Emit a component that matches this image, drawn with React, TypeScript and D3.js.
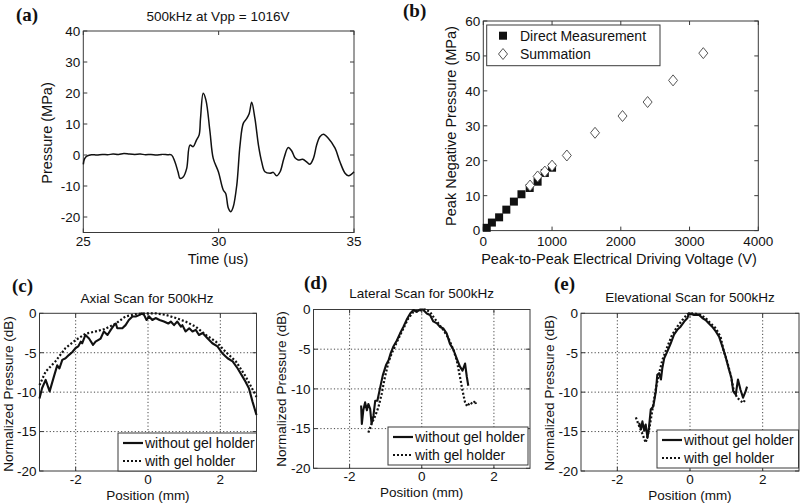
import React from 'react';
import * as d3 from 'd3';

// ---------- Panel (a): waveform ----------
const waveT = [25.0, 25.05, 25.15, 25.3, 25.5, 25.7, 25.9, 26.1, 26.3, 26.5, 26.7, 26.9, 27.1, 27.3, 27.5, 27.7, 27.9, 28.1, 28.26,
  28.38, 28.5, 28.57, 28.69, 28.82, 28.94, 29.06, 29.18, 29.28, 29.33, 29.43, 29.53, 29.68, 29.8, 29.99, 30.17, 30.26, 30.36, 30.45,
  30.54, 30.67, 30.79, 30.91, 31.04, 31.13, 31.22, 31.34, 31.47, 31.59, 31.71, 31.9, 32.02, 32.14, 32.27, 32.41, 32.57, 32.7, 32.82,
  32.94, 33.1, 33.25, 33.37, 33.5, 33.62, 33.74, 33.87, 34.05, 34.3, 34.48, 34.67, 34.79, 34.91, 35.0];
const waveP = [-3.0, -1.2, -0.3, 0.1, 0.0, 0.2, 0.1, 0.3, 0.2, 0.5, 0.3, 0.2, 0.3, 0.1, 0.2, 0.0, 0.2, 0.1, 0.0,
  -2.1, -5.5, -7.5, -7.1, -4.3, 3.2, 2.7, 4.8, 6.5, 11.8, 19.9, 17.7, 7.5, -1.1, -5.4, -11.3, -12.4, -17.2, -18.3,
  -16.7, -9.7, 3.2, 10.2, 11.8, 13.4, 17.0, 11.8, 3.2, -2.2, -5.4, -5.9, -5.6, -6.7, -5.4, -1.1, 2.4, 1.3, -0.9,
  -1.6, -1.4, -2.2, -3.0, -1.1, 3.2, 5.9, 6.7, 5.4, 2.2, -2.2, -5.9, -6.7, -6.2, -5.4];

// ---------- Panel (b): peak negative pressure ----------
const directV = [50, 125, 230, 335, 445, 555, 675, 790, 895, 1000];
const directP = [0.8, 2.3, 3.8, 6.0, 8.3, 10.4, 12.2, 14.0, 16.5, 18.0];
const sumV = [680, 790, 895, 1000, 1215, 1625, 2025, 2390, 2760, 3200];
const sumP = [12.9, 15.5, 16.9, 18.6, 21.5, 28.0, 32.8, 36.8, 43.0, 50.8];

// ---------- Panel (c): axial scan ----------
const axialPosA = [-3.0, -2.93, -2.83, -2.72, -2.6, -2.51, -2.45, -2.37, -2.28, -2.19, -2.09, -2.0, -1.93, -1.86, -1.82, -1.73, -1.63,
  -1.52, -1.45, -1.31, -1.22, -1.12, -1.03, -0.94, -0.89, -0.85, -0.71, -0.62, -0.53, -0.43, -0.34, -0.23, -0.17, -0.11, -0.04, 0.03,
  0.12, 0.21, 0.32, 0.44, 0.56, 0.63, 0.72, 0.81, 0.91, 0.95, 1.04, 1.14, 1.23, 1.32, 1.41, 1.51, 1.65, 1.78, 1.92, 2.06, 2.2, 2.34,
  2.48, 2.61, 2.7, 2.79, 2.89, 3.0];
const axialWithout = [-10.8, -9.5, -8.45, -9.9, -8.0, -6.6, -7.0, -5.9, -5.7, -5.3, -4.9, -4.4, -4.2, -3.6, -3.8, -2.75, -3.2,
  -4.0, -3.6, -3.2, -2.3, -2.75, -2.1, -1.5, -1.3, -1.9, -1.9, -1.5, -0.85, -0.4, -0.4, -0.2, 0.0, -0.2, -0.85, -0.4,
  -0.85, -0.6, -0.85, -1.05, -1.3, -1.05, -1.5, -1.05, -1.7, -1.5, -2.3, -1.9, -2.3, -2.1, -2.75, -2.5, -3.2, -3.8, -4.2, -5.1, -5.7, -6.1,
  -7.0, -8.0, -8.7, -9.5, -11.2, -12.9];
const axialPosB = [-3.0, -2.83, -2.56, -2.28, -2.0, -1.73, -1.45, -1.2, -0.89, -0.62, -0.34, -0.06, 0.21, 0.49, 0.77, 1.04, 1.32, 1.6,
  1.88, 2.15, 2.43, 2.7, 3.0];
const axialWith = [-9.1, -7.4, -6.1, -4.4, -3.4, -2.6, -2.3, -2.0, -1.3, -0.4, -0.1, 0.0, 0.0, -0.2, -0.6, -1.05, -1.7, -2.75,
  -3.6, -4.9, -6.1, -8.0, -10.6];

// ---------- Panel (d): lateral scan ----------
const latPosA = [-1.68, -1.66, -1.62, -1.57, -1.52, -1.48, -1.43, -1.39, -1.34, -1.29, -1.23, -1.16, -1.08, -0.99, -0.92, -0.86, -0.79,
  -0.69, -0.6, -0.51, -0.42, -0.32, -0.23, -0.14, -0.05, 0.03, 0.14, 0.23, 0.32, 0.42, 0.51, 0.6, 0.69, 0.78, 0.88, 0.97, 1.06, 1.13,
  1.2, 1.25, 1.29];
const latWithout = [-12.1, -14.4, -12.7, -11.7, -12.7, -11.9, -12.5, -14.4, -13.4, -11.5, -11.5, -10.0, -8.3, -7.0, -6.4, -5.5, -4.7,
  -3.9, -3.0, -2.2, -1.3, -0.5, -0.06, -0.3, 0.0, 0.0, -0.5, -0.7, -1.5, -1.75, -2.2, -2.4, -3.0, -4.3, -5.1, -6.2, -7.2, -7.7,
  -6.8, -8.5, -9.6];
const latPosB = [-1.48, -1.39, -1.29, -1.2, -1.11, -1.02, -0.92, -0.83, -0.69, -0.51, -0.37, -0.23, -0.09, 0.09, 0.23, 0.32, 0.46,
  0.6, 0.74, 0.88, 0.97, 1.06, 1.13, 1.2, 1.26, 1.34, 1.41, 1.48, 1.5];
const latWith = [-15.5, -14.4, -13.4, -12.3, -10.6, -8.5, -6.6, -5.5, -4.1, -2.4, -1.1, -0.3, -0.15, 0.0, -0.3, -0.9, -1.75,
  -2.6, -3.6, -5.1, -6.4, -8.5, -10.2, -11.7, -12.2, -11.7, -11.9, -11.5, -11.9];

// ---------- Panel (e): elevational scan ----------
const elePosA = [-1.4, -1.35, -1.31, -1.26, -1.22, -1.17, -1.13, -1.08, -1.01, -0.94, -0.9, -0.85, -0.8, -0.76, -0.71, -0.62, -0.53,
  -0.44, -0.35, -0.26, -0.16, -0.07, -0.03, 0.11, 0.25, 0.34, 0.43, 0.52, 0.61, 0.71, 0.8, 0.89, 0.98, 1.07, 1.14, 1.19, 1.26, 1.32,
  1.39, 1.46, 1.53, 1.57];
const eleWithout = [-13.9, -14.7, -13.7, -14.9, -14.1, -15.8, -14.5, -12.2, -11.8, -9.9, -7.8, -7.6, -8.4, -6.9, -5.7, -4.8, -3.8,
  -2.7, -2.1, -1.7, -1.05, -0.6, 0.0, -0.2, -0.2, -0.6, -0.85, -1.3, -1.7, -2.3, -2.95, -4.2, -5.5, -7.1, -8.2, -9.9, -10.3, -8.4,
  -9.7, -10.7, -9.9, -9.3];
const elePosB = [-1.49, -1.4, -1.31, -1.22, -1.13, -1.04, -0.94, -0.85, -0.76, -0.62, -0.49, -0.35, -0.21, -0.07, 0.11, 0.29, 0.43,
  0.57, 0.71, 0.84, 0.93, 1.02, 1.12, 1.21, 1.3, 1.39, 1.46, 1.53];
const eleWith = [-13.2, -14.3, -15.3, -16.4, -14.9, -12.4, -9.5, -7.6, -5.9, -4.2, -2.7, -1.7, -0.85, -0.1, 0.0, -0.2, -0.6,
  -1.3, -1.9, -2.95, -4.8, -6.1, -7.8, -9.9, -10.7, -11.1, -11.35, -10.9];

// ---------- tick labels ----------
const aXTicks = [25, 30, 35];
const aYTicks = [-20, -10, 0, 10, 20, 30, 40];
const bXTicks = [0, 1000, 2000, 3000, 4000];
const bYTicks = [0, 10, 20, 30, 40, 50, 60];
const scanXTicks = [-2, 0, 2];
const scanYTicks = [-20, -15, -10, -5, 0];

const SANS = '"Liberation Sans", Arial, Helvetica, sans-serif';
const SERIF = '"Liberation Serif", "Times New Roman", serif';
const AX = '#3a3a3a';

type Sc = d3.ScaleLinear<number, number>;

function Frame({ x, y, xTicks, yTicks, grid, tickFont = 13.5, xLabY }:
  { x: Sc; y: Sc; xTicks: number[]; yTicks: number[]; grid?: boolean; tickFont?: number; xLabY: number }) {
  const [x0, x1] = x.range();
  const [y0, y1] = y.range(); // y0 bottom, y1 top
  const tl = 4;
  return (
    <g>
      {grid && xTicks.map((t) => {
        const px = x(t);
        if (Math.abs(px - x0) < 1 || Math.abs(px - x1) < 1) return null;
        return <line key={'gx' + t} x1={px} x2={px} y1={y0} y2={y1} stroke="#333" strokeWidth={0.9} strokeDasharray="1.2,2.2" />;
      })}
      {grid && yTicks.map((t) => {
        const py = y(t);
        if (Math.abs(py - y0) < 1 || Math.abs(py - y1) < 1) return null;
        return <line key={'gy' + t} x1={x0} x2={x1} y1={py} y2={py} stroke="#333" strokeWidth={0.9} strokeDasharray="1.2,2.2" />;
      })}
      <rect x={x0} y={y1} width={x1 - x0} height={y0 - y1} fill="none" stroke={AX} strokeWidth={1} />
      {xTicks.map((t) => (
        <g key={'xt' + t}>
          <line x1={x(t)} x2={x(t)} y1={y0} y2={y0 - tl} stroke={AX} />
          <line x1={x(t)} x2={x(t)} y1={y1} y2={y1 + tl} stroke={AX} />
          <text x={x(t)} y={xLabY} textAnchor="middle" fontSize={tickFont} fontFamily={SANS} fill="#111">{t}</text>
        </g>
      ))}
      {yTicks.map((t) => (
        <g key={'yt' + t}>
          <line x1={x0} x2={x0 + tl} y1={y(t)} y2={y(t)} stroke={AX} />
          <line x1={x1} x2={x1 - tl} y1={y(t)} y2={y(t)} stroke={AX} />
          <text x={x0 - 3} y={y(t)} dy="0.36em" textAnchor="end" fontSize={tickFont} fontFamily={SANS} fill="#111">{t}</text>
        </g>
      ))}
    </g>
  );
}

function ScanPanel({ letter, letterX, letterY, title, titleX, titleY, xr, yr, posA, valA, posB, valB, ylabX, ylabY, legend }:
  any) {
  const x = d3.scaleLinear().domain([-3, 3]).range(xr);
  const y = d3.scaleLinear().domain([-20, 0]).range(yr);
  const line = d3.line<[number, number]>().x((d) => x(d[0])).y((d) => y(d[1]));
  const a = posA.map((p: number, i: number) => [p, valA[i]] as [number, number]);
  const b = posB.map((p: number, i: number) => [p, valB[i]] as [number, number]);
  const bottom = yr[0];
  const [lx, ly, lw, lh] = legend;
  const cx = (xr[0] + xr[1]) / 2;
  return (
    <g>
      <Frame x={x} y={y} xTicks={scanXTicks} yTicks={scanYTicks} grid tickFont={13.5} xLabY={bottom + 13} />
      <path d={line(b) || ''} fill="none" stroke="#111" strokeWidth={2.2} strokeDasharray="2,2" />
      <path d={line(a) || ''} fill="none" stroke="#111" strokeWidth={2.1} strokeLinejoin="round" />
      <rect x={lx} y={ly} width={lw} height={lh} fill="white" stroke={AX} strokeWidth={1} />
      <line x1={lx + 5} x2={lx + 25} y1={ly + 10} y2={ly + 10} stroke="#111" strokeWidth={2.2} />
      <text x={lx + 27} y={ly + 10} dy="0.36em" fontSize={14} fontFamily={SANS} fill="#111">without gel holder</text>
      <line x1={lx + 5} x2={lx + 25} y1={ly + 28} y2={ly + 28} stroke="#111" strokeWidth={2.2} strokeDasharray="2,2" />
      <text x={lx + 27} y={ly + 28} dy="0.36em" fontSize={14} fontFamily={SANS} fill="#111">with gel holder</text>
      <text x={titleX} y={titleY} textAnchor="middle" fontSize={13.5} fontFamily={SANS} fill="#111">{title}</text>
      <text x={letterX} y={letterY} fontSize={19} fontWeight="bold" fontFamily={SERIF} fill="#111">{letter}</text>
      <text x={cx} y={bottom + 29} textAnchor="middle" fontSize={13.5} fontFamily={SANS} fill="#111">Position (mm)</text>
      <text transform={`translate(${ylabX},${ylabY}) rotate(-90)`} textAnchor="middle" fontSize={13.5} fontFamily={SANS} fill="#111">Normalized Pressure (dB)</text>
    </g>
  );
}

export default function App() {
  // Panel a
  const ax = d3.scaleLinear().domain([25, 35]).range([83.3, 354]);
  const ay = d3.scaleLinear().domain([-25, 40]).range([232.5, 31]);
  const wave = waveT.map((t, i) => [t, waveP[i]] as [number, number]);
  const waveLine = d3.line<[number, number]>().x((d) => ax(d[0])).y((d) => ay(d[1])).curve(d3.curveCatmullRom.alpha(0.5));

  // Panel b
  const bx = d3.scaleLinear().domain([0, 4000]).range([483.3, 758.3]);
  const by = d3.scaleLinear().domain([0, 60]).range([230.6, 21]);

  return (
    <svg width={800} height={503} style={{ position: 'absolute', left: 0, top: 0, background: 'white' }}>
      <rect x={0} y={0} width={800} height={503} fill="white" />
      {/* (a) */}
      <Frame x={ax} y={ay} xTicks={aXTicks} yTicks={aYTicks} xLabY={245.5} />
      <path d={waveLine(wave) || ''} fill="none" stroke="#111" strokeWidth={1.5} />
      <text x={16} y={21} fontSize={19} fontWeight="bold" fontFamily={SERIF} fill="#111">(a)</text>
      <text x={218} y={21} textAnchor="middle" fontSize={13.5} fontFamily={SANS} fill="#111">500kHz at Vpp = 1016V</text>
      <text x={218} y={264} textAnchor="middle" fontSize={14.5} fontFamily={SANS} fill="#111">Time (us)</text>
      <text transform="translate(52,133) rotate(-90)" textAnchor="middle" fontSize={14.5} fontFamily={SANS} fill="#111">Pressure (MPa)</text>

      {/* (b) */}
      <Frame x={bx} y={by} xTicks={bXTicks} yTicks={bYTicks} xLabY={245.5} />
      {directV.map((v, i) => (
        <rect key={'d' + i} x={bx(v) - 4} y={by(directP[i]) - 4} width={8} height={8} fill="#111" />
      ))}
      {sumV.map((v, i) => {
        const cx = bx(v), cy = by(sumP[i]);
        return <path key={'s' + i} d={`M${cx},${cy - 5.5}L${cx + 4.5},${cy}L${cx},${cy + 5.5}L${cx - 4.5},${cy}Z`} fill="white" stroke="#555" strokeWidth={1} />;
      })}
      <rect x={486.7} y={25} width={173.3} height={40.7} fill="white" stroke={AX} strokeWidth={1} />
      <rect x={499} y={31.7} width={8} height={8} fill="#111" />
      <path d="M503,48.5L507.5,54L503,59.5L498.5,54Z" fill="white" stroke="#555" strokeWidth={1} />
      <text x={520} y={35.7} dy="0.36em" fontSize={14} fontFamily={SANS} fill="#111">Direct Measurement</text>
      <text x={520} y={54} dy="0.36em" fontSize={14} fontFamily={SANS} fill="#111">Summation</text>
      <text x={403} y={17} fontSize={19} fontWeight="bold" fontFamily={SERIF} fill="#111">(b)</text>
      <text x={619} y={264} textAnchor="middle" fontSize={14.5} fontFamily={SANS} fill="#111">Peak-to-Peak Electrical Driving Voltage (V)</text>
      <text transform="translate(456,126) rotate(-90)" textAnchor="middle" fontSize={14.5} fontFamily={SANS} fill="#111">Peak Negative Pressure (MPa)</text>

      {/* (c) */}
      <ScanPanel letter="(c)" letterX={12} letterY={292} title="Axial Scan for 500kHz" titleX={147} titleY={303}
        xr={[39.5, 256.5]} yr={[471, 313.3]} posA={axialPosA} valA={axialWithout} posB={axialPosB} valB={axialWith}
        ylabX={12.5} ylabY={394} legend={[118, 433, 138.5, 38]} />
      {/* (d) */}
      <ScanPanel letter="(d)" letterX={304} letterY={289} title="Lateral Scan for 500kHz" titleX={421.7} titleY={298}
        xr={[313.5, 530]} yr={[468.3, 309.5]} posA={latPosA} valA={latWithout} posB={latPosB} valB={latWith}
        ylabX={286} ylabY={389} legend={[388, 427, 140, 38]} />
      {/* (e) */}
      <ScanPanel letter="(e)" letterX={554} letterY={290} title="Elevational Scan for 500kHz" titleX={690} titleY={301.5}
        xr={[581, 799]} yr={[471, 313.3]} posA={elePosA} valA={eleWithout} posB={elePosB} valB={eleWith}
        ylabX={554} ylabY={393} legend={[657, 430, 141.5, 38]} />
    </svg>
  );
}
